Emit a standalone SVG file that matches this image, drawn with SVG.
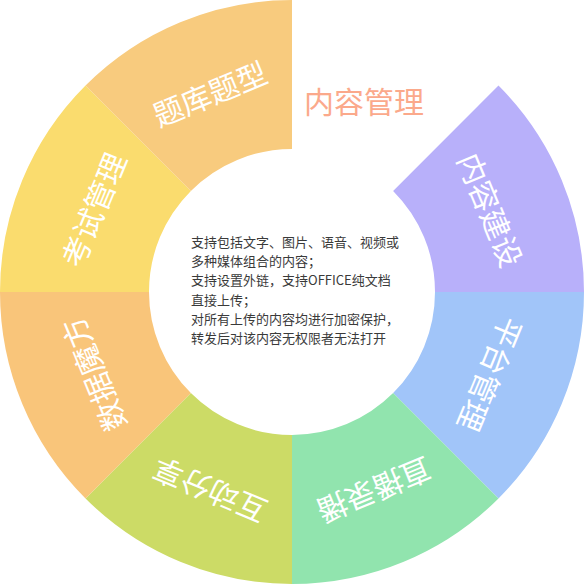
<svg xmlns="http://www.w3.org/2000/svg" width="584" height="584" viewBox="0 0 584 584">
<style>
.lbl{font-family:"Noto Sans CJK SC","Noto Sans",sans-serif;font-size:30px;fill:#ffffff;text-anchor:middle}
.title{font-family:"Noto Sans CJK SC","Noto Sans",sans-serif;font-size:30px;fill:#FBA98B}
.desc{font-family:"Noto Sans CJK SC","Noto Sans",sans-serif;font-size:13px;fill:#3a3a3a}
</style>
<rect width="584" height="584" fill="#ffffff"/>
<g id="seg-neirongjianshe">
<path d="M498.476,85.524 A292,292 0 0 1 584,292 L435,292 A143,143 0 0 0 393.117,190.883 Z" fill="#B8B0FA"/>
<text class="lbl" x="292" y="89" transform="rotate(67.5 292 292)">内容建设</text>
</g>
<g id="seg-pingtaiguanli">
<path d="M584,292 A292,292 0 0 1 498.476,498.476 L393.117,393.117 A143,143 0 0 0 435,292 Z" fill="#A1C5F9"/>
<text class="lbl" x="292" y="89" transform="rotate(112.5 292 292)">平台管理</text>
</g>
<g id="seg-zhibolubo">
<path d="M498.476,498.476 A292,292 0 0 1 292,584 L292,435 A143,143 0 0 0 393.117,393.117 Z" fill="#91E4AE"/>
<text class="lbl" x="292" y="89" transform="rotate(157.5 292 292)">直播录播</text>
</g>
<g id="seg-hudongfenxiang">
<path d="M292,584 A292,292 0 0 1 85.524,498.476 L190.883,393.117 A143,143 0 0 0 292,435 Z" fill="#CCDB66"/>
<text class="lbl" x="292" y="89" transform="rotate(202.5 292 292)">互动分享</text>
</g>
<g id="seg-shujumofang">
<path d="M85.524,498.476 A292,292 0 0 1 0,292 L149,292 A143,143 0 0 0 190.883,393.117 Z" fill="#F9C57A"/>
<text class="lbl" x="292" y="89" transform="rotate(247.5 292 292)">数据魔方</text>
</g>
<g id="seg-kaoshiguanli">
<path d="M0,292 A292,292 0 0 1 85.524,85.524 L190.883,190.883 A143,143 0 0 0 149,292 Z" fill="#FADC6E"/>
<text class="lbl" x="292" y="89" transform="rotate(292.5 292 292)">考试管理</text>
</g>
<g id="seg-tikutixing">
<path d="M85.524,85.524 A292,292 0 0 1 292,0 L292,149 A143,143 0 0 0 190.883,190.883 Z" fill="#F8CB7E"/>
<text class="lbl" x="292" y="89" transform="rotate(337.5 292 292)">题库题型</text>
</g>
<g id="title">
<text class="title" x="304" y="113">内容管理</text>
</g>
<g id="center-text">
<text class="desc" x="191" y="246.5">支持包括文字、图片、语音、视频或</text>
<text class="desc" x="191" y="266">多种媒体组合的内容；</text>
<text class="desc" x="191" y="285">支持设置外链，支持OFFICE纯文档</text>
<text class="desc" x="191" y="304.5">直接上传；</text>
<text class="desc" x="191" y="323.5">对所有上传的内容均进行加密保护，</text>
<text class="desc" x="191" y="343">转发后对该内容无权限者无法打开</text>
</g>
<g id="connectors"></g>
</svg>
